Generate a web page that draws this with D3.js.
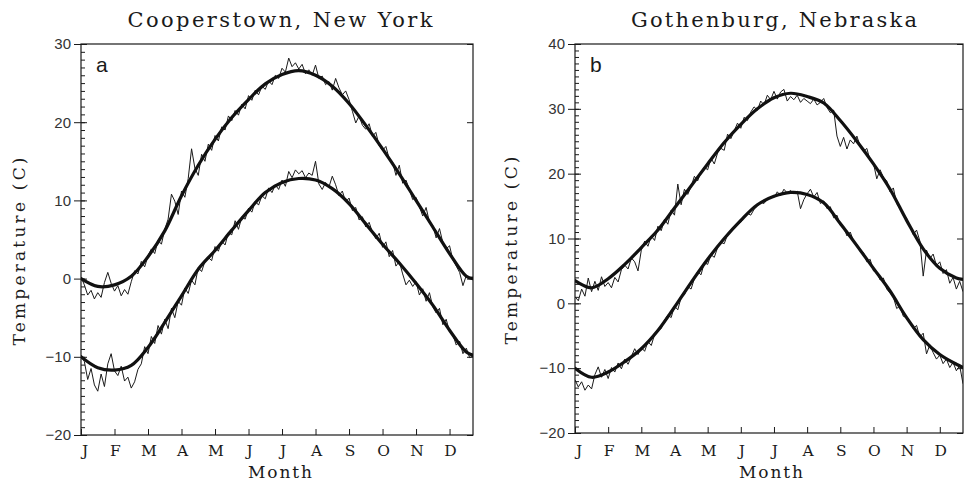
<!DOCTYPE html>
<html>
<head>
<meta charset="utf-8">
<script src="https://cdn.jsdelivr.net/npm/d3@7/dist/d3.min.js"></script>
<style>
  body { margin: 0; background: #fff; }
  svg { display: block; }
</style>
</head>
<body>
<div id="grafico"></div>
<script>
// Month labels on the x axis (ticks at the start of each month)
const monthLabels = ["J", "F", "M", "A", "M", "J", "J", "A", "S", "O", "N", "D"];

// Smooth (fitted) curves, sampled every half month
const smoothMonths = [0, 0.5, 1, 1.5, 2, 2.5, 3, 3.5, 4, 4.5, 5, 5.5, 6, 6.5, 7, 7.5, 8, 8.5, 9, 9.5, 10, 10.5, 11, 11.5, 11.7];

const coopMaxSmooth = [0.0, -1.0, -0.8, 0.3, 2.8, 6.1, 10.6, 14.5, 17.8, 20.6, 22.9, 24.9, 26.1, 26.6, 26.0, 24.6, 22.4, 19.6, 16.6, 13.4, 10.0, 6.6, 3.2, 0.3, 0.0];
const coopMinSmooth = [-10.0, -11.4, -11.7, -11.1, -8.8, -5.6, -2.2, 1.2, 3.6, 6.2, 8.7, 11.0, 12.3, 12.8, 12.6, 11.5, 9.6, 7.0, 4.4, 2.0, -0.6, -3.4, -6.6, -9.4, -9.8];
const gothMaxSmooth = [3.5, 2.4, 3.8, 6.0, 8.6, 11.3, 14.7, 18.1, 21.5, 24.8, 27.6, 30.0, 31.7, 32.4, 31.9, 30.9, 28.2, 25.0, 21.5, 17.6, 12.8, 8.4, 5.4, 3.9, 3.7];
const gothMinSmooth = [-10.0, -11.4, -10.6, -9.0, -7.0, -4.2, -0.6, 3.2, 6.8, 10.0, 12.8, 15.2, 16.5, 17.1, 16.8, 15.5, 12.3, 8.9, 5.4, 1.9, -2.2, -5.6, -7.9, -9.4, -9.9];

// Daily means (read every ~3 days, i.e. every 0.1 month starting at Jan 1)
const coopMaxDaily = [0.2, -0.8, -2.1, -1.5, -2.6, -1.8, -2.4, -0.5, 0.8, -0.6,
  -1.6, -0.9, -2.2, -1.4, -2.0, -0.4, 1.0, 0.6, 2.2, 1.5,
  2.9, 3.8, 3.2, 4.9, 4.4, 6.3, 7.6, 10.8, 9.9, 8.2,
  11.2, 10.4, 12.8, 16.6, 14.1, 13.2, 15.9, 15.0, 17.2, 16.4,
  18.3, 17.6, 19.4, 19.0, 20.8, 20.2, 21.5, 20.9, 22.3, 21.7,
  23.4, 22.8, 24.1, 23.5, 24.6, 24.2, 25.3, 24.8, 26.0, 25.6,
  26.9, 26.4, 28.2, 27.1, 27.6, 26.8, 27.4, 26.2, 26.7, 26.0,
  27.3, 25.6, 25.9, 24.8, 25.2, 24.1, 25.6, 24.4, 23.5, 24.0,
  22.9, 21.4, 19.9, 20.8, 19.6, 19.1, 19.8, 18.2, 18.7, 17.0,
  16.4, 16.9, 15.3, 14.9, 13.2, 14.5, 12.2, 12.6, 11.4, 10.1,
  10.4, 9.2, 8.0, 9.1, 7.2, 6.8, 5.2, 6.4, 4.6, 3.8,
  4.2, 2.4, 1.6, 0.8, -0.9, 0.4, 0.1, 0.2];
const coopMinDaily = [-9.8, -10.6, -12.9, -11.5, -13.6, -14.4, -12.2, -13.8, -10.9, -9.6,
  -11.8, -12.4, -11.2, -13.1, -12.6, -14.0, -13.2, -11.6, -10.9, -8.7,
  -9.6, -7.4, -8.3, -6.0, -7.1, -5.2, -6.4, -3.8, -5.0, -2.9,
  -3.4, -1.2, -1.9, -0.2, -0.8, 1.4, 0.9, 2.2, 2.7, 2.3,
  4.1, 3.5, 4.8, 4.3, 5.9, 5.6, 7.4, 6.3, 7.9, 7.6,
  9.0, 8.5, 9.9, 9.4, 10.6, 10.2, 11.6, 11.0, 12.0, 11.4,
  12.6, 11.8, 13.7, 12.9, 13.9, 13.4, 13.8, 12.9, 13.5, 13.2,
  15.0, 12.1, 11.4, 12.3, 11.7, 13.1, 12.0, 10.6, 11.2, 9.8,
  10.3, 8.7, 9.1, 7.5, 7.9, 6.6, 7.2, 5.9, 5.1, 5.8,
  4.0, 4.7, 2.8, 3.6, 1.6, 2.2, 0.6, -0.8, -0.2, -1.0,
  -0.4, -2.1, -1.3, -2.9, -1.8, -3.6, -4.4, -3.8, -5.9, -5.2,
  -6.8, -7.2, -8.5, -8.0, -9.6, -8.9, -10.1, -9.9];
const gothMaxDaily = [1.0, 0.4, 2.2, 1.1, 3.9, 1.8, 3.4, 2.0, 4.1, 2.6,
  3.2, 2.4, 4.0, 3.3, 5.2, 5.9, 5.3, 7.0, 6.4, 5.0,
  8.2, 9.6, 8.8, 10.4, 9.7, 11.9, 11.2, 13.0, 12.2, 14.4,
  13.6, 18.4, 15.2, 17.6, 16.8, 18.0, 19.6, 18.9, 20.3, 21.0,
  20.6, 22.4, 21.5, 23.2, 23.9, 23.6, 26.1, 25.4, 26.6, 27.8,
  27.0, 28.7, 28.2, 29.5, 30.3, 29.8, 31.2, 30.6, 32.1, 31.4,
  32.7, 31.5, 32.6, 33.0, 31.2, 31.9, 31.4, 32.1, 31.0, 31.6,
  31.2, 30.8, 31.5, 30.6, 31.0, 31.6, 30.2, 29.4, 29.8, 25.8,
  24.2, 25.6, 23.8, 25.2, 24.6, 25.8, 24.2, 23.4, 23.9, 22.0,
  21.6, 19.2, 20.6, 19.4, 18.9, 17.2, 17.8, 15.4, 14.6, 13.8,
  13.1, 11.9, 10.6, 11.3, 9.6, 4.2, 8.2, 6.9, 7.6, 5.8,
  6.4, 4.6, 5.2, 3.1, 4.0, 2.2, 3.4, 1.8];
const gothMinDaily = [-11.8, -12.9, -12.1, -13.4, -12.6, -13.2, -11.0, -9.8, -11.4, -10.2,
  -11.6, -9.9, -10.6, -9.2, -10.1, -8.6, -9.4, -8.2, -7.0, -7.9,
  -6.8, -7.4, -5.9, -6.5, -4.8, -4.2, -3.9, -2.6, -1.8, -2.2,
  -0.4, -1.0, 0.9, 1.3, 2.6, 2.2, 3.8, 4.9, 4.4, 6.3,
  6.0, 7.5, 7.1, 8.6, 9.4, 9.2, 10.6, 11.0, 11.6, 12.2,
  12.5, 13.3, 13.9, 13.6, 14.5, 15.0, 15.6, 15.4, 16.1, 16.4,
  16.3, 17.2, 16.6, 17.6, 17.0, 17.4, 16.9, 17.3, 14.6, 16.0,
  16.9, 17.6, 16.4, 17.1, 15.4, 15.8, 14.6, 14.9, 13.2, 13.6,
  12.0, 11.8, 10.4, 11.0, 9.6, 9.1, 8.0, 7.8, 6.4, 6.8,
  5.0, 4.8, 3.6, 3.9, 2.2, 1.6, 1.0, -0.8, -0.4, -2.0,
  -2.2, -3.0, -3.9, -3.4, -5.2, -4.6, -7.8, -6.4, -7.6, -8.6,
  -8.0, -9.3, -8.6, -9.9, -9.1, -10.4, -9.6, -12.4];

const coopTicks = [-20, -10, 0, 10, 20, 30];
const gothTicks = [-20, -10, 0, 10, 20, 30, 40];

const width = 964, height = 483;
const serif = "'DejaVu Serif', serif";
const sans = "'Liberation Sans', Arial, sans-serif";
const ink = "#1a1a1a";

const svg = d3.select("#grafico")
  .append("svg")
  .attr("width", width)
  .attr("height", height);

const paineis = [
  {
    title: "Cooperstown, New York", titleX: 280, titleLen: 305, letter: "a",
    left: 81, right: 473, top: 44, bottom: 435, yLabelX: 19, monthX: 280,
    yDomain: [-20, 30], ticks: coopTicks,
    maxSmooth: coopMaxSmooth, minSmooth: coopMinSmooth,
    maxDaily: coopMaxDaily, minDaily: coopMinDaily
  },
  {
    title: "Gothenburg, Nebraska", titleX: 774, titleLen: 286, letter: "b",
    left: 575, right: 963, top: 44, bottom: 433, yLabelX: 511, monthX: 771,
    yDomain: [-20, 40], ticks: gothTicks,
    maxSmooth: gothMaxSmooth, minSmooth: gothMinSmooth,
    maxDaily: gothMaxDaily, minDaily: gothMinDaily
  }
];

paineis.forEach((p, idx) => desenharPainel(p, idx));

function desenharPainel(p, idx) {
  const x = d3.scaleLinear().domain([0, 11.7]).range([p.left, p.right]);
  const y = d3.scaleLinear().domain(p.yDomain).range([p.bottom, p.top]);
  const g = svg.append("g");

  // clip for the curves
  g.append("clipPath").attr("id", "clip" + idx)
    .append("rect")
    .attr("x", p.left).attr("y", p.top)
    .attr("width", p.right - p.left).attr("height", p.bottom - p.top);

  // minor ticks (every degree) inside the left axis
  g.append("g")
    .attr("transform", `translate(${p.left},0)`)
    .call(d3.axisRight(y).tickValues(d3.range(p.yDomain[0], p.yDomain[1] + 1, 1)).tickSize(4).tickFormat(""))
    .call(s => s.select(".domain").remove())
    .call(s => s.selectAll("line").attr("stroke", ink));

  // major ticks + labels on the left
  g.append("g")
    .attr("transform", `translate(${p.left},0)`)
    .call(d3.axisLeft(y).tickValues(p.ticks).tickSize(7).tickPadding(3)
      .tickFormat(d => d < 0 ? "\u2212" + Math.abs(d) : d))
    .call(s => s.select(".domain").remove())
    .call(s => s.selectAll("line").attr("stroke", ink).attr("x2", 6).attr("x1", -7))
    .call(s => s.selectAll("text").attr("font-family", sans).attr("font-size", 15).attr("fill", "#333"));

  // major ticks inside the right axis
  g.append("g")
    .attr("transform", `translate(${p.right},0)`)
    .call(d3.axisLeft(y).tickValues(p.ticks).tickSize(6).tickFormat(""))
    .call(s => s.select(".domain").remove())
    .call(s => s.selectAll("line").attr("stroke", ink));

  // month ticks pointing up from the bottom axis
  g.append("g")
    .attr("transform", `translate(0,${p.bottom})`)
    .call(d3.axisTop(x).tickValues(d3.range(0, 12)).tickSize(6).tickFormat(""))
    .call(s => s.select(".domain").remove())
    .call(s => s.selectAll("line").attr("stroke", ink));

  // month letters
  g.selectAll(".mes")
    .data(monthLabels)
    .enter().append("text")
    .attr("x", (d, i) => x(i) + (i === 0 ? 4 : 1))
    .attr("y", 456)
    .attr("text-anchor", "middle")
    .attr("font-family", serif)
    .attr("font-size", 15.5)
    .attr("fill", ink)
    .text(d => d);

  // frame
  g.append("rect")
    .attr("x", p.left).attr("y", p.top)
    .attr("width", p.right - p.left).attr("height", p.bottom - p.top)
    .attr("fill", "none").attr("stroke", ink).attr("stroke-width", 1.2);

  const dailyLine = d3.line()
    .x((d, i) => x(i / 10))
    .y(d => y(d));

  const smoothLine = d3.line()
    .x((d, i) => x(smoothMonths[i]))
    .y(d => y(d))
    .curve(d3.curveCatmullRom.alpha(0.5));

  const curves = g.append("g").attr("clip-path", `url(#clip${idx})`);

  [p.maxDaily, p.minDaily].forEach(serie => {
    curves.append("path")
      .datum(serie)
      .attr("fill", "none")
      .attr("stroke", ink)
      .attr("stroke-width", 1)
      .attr("stroke-linejoin", "round")
      .attr("d", dailyLine);
  });

  [p.maxSmooth, p.minSmooth].forEach(serie => {
    curves.append("path")
      .datum(serie)
      .attr("fill", "none")
      .attr("stroke", "#111")
      .attr("stroke-width", 3.2)
      .attr("stroke-linecap", "round")
      .attr("d", smoothLine);
  });

  // title
  g.append("text")
    .attr("x", p.titleX).attr("y", 27)
    .attr("text-anchor", "middle")
    .attr("font-family", serif)
    .attr("font-size", 21)
    .attr("textLength", p.titleLen)
    .attr("lengthAdjust", "spacing")
    .attr("fill", ink)
    .text(p.title);

  // panel letter
  g.append("text")
    .attr("x", p.left + 15).attr("y", p.top + 28)
    .attr("font-family", sans)
    .attr("font-size", 21)
    .attr("fill", ink)
    .text(p.letter);

  // y axis label
  g.append("text")
    .attr("transform", `translate(${p.yLabelX},${(p.top + p.bottom) / 2 + 12}) rotate(-90)`)
    .attr("text-anchor", "middle")
    .attr("dy", "0.35em")
    .attr("font-family", serif)
    .attr("font-size", 17)
    .attr("textLength", 188)
    .attr("lengthAdjust", "spacing")
    .attr("fill", ink)
    .text("Temperature (C)");

  // x axis label
  g.append("text")
    .attr("x", p.monthX).attr("y", 478)
    .attr("text-anchor", "middle")
    .attr("font-family", serif)
    .attr("font-size", 17)
    .attr("textLength", 64)
    .attr("lengthAdjust", "spacing")
    .attr("fill", ink)
    .text("Month");
}
</script>
</body>
</html>
